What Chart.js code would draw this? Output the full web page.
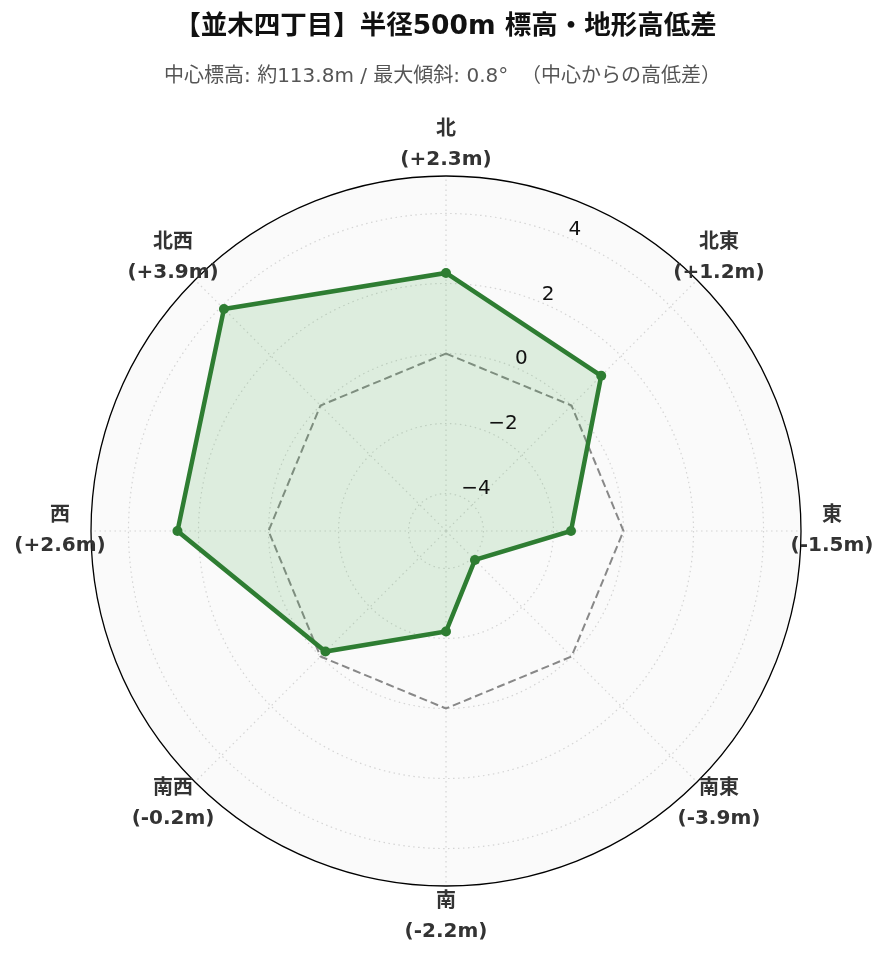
<!DOCTYPE html>
<html>
<head>
<meta charset="utf-8">
<script src="https://cdn.jsdelivr.net/npm/chart.js@4"></script>
<style>
  html, body { margin: 0; padding: 0; background: #fff; }
  #wrap { width: 889px; height: 962px; position: relative; }
</style>
</head>
<body>
<div id="wrap"><canvas id="chart"></canvas></div>
<script>
// directions, clockwise from north
const directions = ['北', '北東', '東', '南東', '南', '南西', '西', '北西'];
const diffs = [2.3, 1.2, -1.5, -3.9, -2.2, -0.2, 2.6, 3.9];
const zeroLine = [0, 0, 0, 0, 0, 0, 0, 0];
const tickValues = [-4, -2, 0, 2, 4];
const rMin = -5.07;
const rMax = 5.07;

const titleText = '【並木四丁目】半径500m 標高・地形高低差';
const subtitleText = '中心標高: 約113.8m / 最大傾斜: 0.8°  （中心からの高低差）';

const FONT = '"DejaVu Sans", "Noto Sans CJK JP", sans-serif';

function fmt(v) {
    return '(' + (v > 0 ? '+' : '') + v.toFixed(1) + 'm)';
}

// background disc, outer ring, labels, titles
const decor = {
    id: 'decor',
    beforeDraw(chart) {
        const s = chart.scales.r;
        const ctx = chart.ctx;
        ctx.save();
        ctx.fillStyle = '#fafafa';
        ctx.beginPath();
        ctx.arc(s.xCenter, s.yCenter, s.drawingArea, 0, Math.PI * 2);
        ctx.fill();
        ctx.restore();
    },
    afterDraw(chart) {
        const s = chart.scales.r;
        const ctx = chart.ctx;
        ctx.save();
        // outer ring
        ctx.strokeStyle = '#000';
        ctx.lineWidth = 1.3;
        ctx.beginPath();
        ctx.arc(s.xCenter, s.yCenter, s.drawingArea, 0, Math.PI * 2);
        ctx.stroke();

        // radial tick labels along 22.5 deg
        ctx.fillStyle = '#111';
        ctx.font = '20px ' + FONT;
        ctx.textAlign = 'left';
        ctx.textBaseline = 'bottom';
        const ang = 22.5 * Math.PI / 180;
        tickValues.forEach(v => {
            const d = s.getDistanceFromCenterForValue(v);
            const x = s.xCenter + d * Math.sin(ang) + 1;
            const y = s.yCenter - d * Math.cos(ang) + 2;
            ctx.fillText(String(v).replace('-', '\u2212'), x, y);
        });

        // direction labels
        ctx.fillStyle = '#333';
        ctx.font = 'bold 20px ' + FONT;
        ctx.textAlign = 'center';
        ctx.textBaseline = 'middle';
        directions.forEach((name, i) => {
            const p = s.getPointPosition(i, s.drawingArea + 31);
            ctx.fillText(name, p.x, p.y - 15);
            ctx.fillText(fmt(diffs[i]), p.x, p.y + 15);
        });

        // titles
        ctx.fillStyle = '#111';
        ctx.font = 'bold 26.5px ' + FONT;
        ctx.fillText(titleText, chart.width / 2 + 1, 27);
        ctx.fillStyle = '#555';
        ctx.font = '20px ' + FONT;
        ctx.fillText(subtitleText, chart.width / 2 - 2, 77);
        ctx.restore();
    }
};

new Chart(document.getElementById('chart'), {
    type: 'radar',
    data: {
        labels: directions,
        datasets: [
            {
                label: '高低差',
                data: diffs,
                borderColor: '#2e7d32',
                backgroundColor: 'rgba(76,175,80,0.16)',
                borderWidth: 4.5,
                pointRadius: 5,
                pointBackgroundColor: '#2e7d32',
                pointBorderWidth: 0,
                fill: 'start',
                order: 1,
            },
            {
                label: '基準',
                data: zeroLine,
                borderColor: '#888',
                borderWidth: 2,
                borderDash: [8, 4],
                pointRadius: 0,
                fill: false,
                order: 2,
            },
        ],
    },
    options: {
        responsive: true,
        maintainAspectRatio: false,
        animation: false,
        layout: { padding: { left: 91, right: 88, top: 176, bottom: 76 } },
        plugins: {
            legend: { display: false },
            tooltip: { enabled: false },
        },
        scales: {
            r: {
                min: rMin,
                max: rMax,
                afterBuildTicks: (scale) => {
                    scale.ticks = tickValues.map(v => ({ value: v }));
                },
                ticks: { display: false },
                pointLabels: { display: false },
                grid: {
                    circular: true,
                    color: '#d4d4d4',
                    lineWidth: 1.2,
                },
                border: { dash: [1.5, 3.5] },
                angleLines: {
                    color: '#d4d4d4',
                    lineWidth: 1.2,
                    borderDash: [1.5, 3.5],
                },
            },
        },
    },
    plugins: [decor],
});
</script>
</body>
</html>
